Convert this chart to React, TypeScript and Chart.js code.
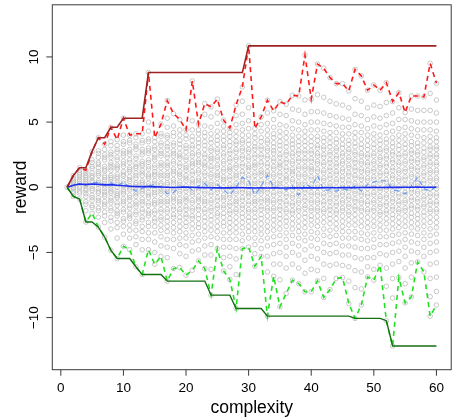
import { useEffect, useRef } from "react";
import { Chart, registerables } from "chart.js";

Chart.register(...registerables);

const complexity = [
  1, 2, 3, 4, 5, 6, 7, 8, 9, 10, 11, 12, 13, 14, 15, 16, 17, 18, 19, 20,
  21, 22, 23, 24, 25, 26, 27, 28, 29, 30, 31, 32, 33, 34, 35, 36, 37, 38, 39, 40,
  41, 42, 43, 44, 45, 46, 47, 48, 49, 50, 51, 52, 53, 54, 55, 56, 57, 58, 59, 60,
];

// per-complexity reward samples (gray circles)
const rewardSamples = [
  "0",
  "0.9 0.7 0.55 0.3 0.15 0 -0.1 -0.3 -0.45 -0.7 0.4",
  "1.5 1.3 1.1 0.95 0.6 0.45 0.3 0.1 -0.05 -0.3 -0.45 -0.9 0.8",
  "1.3 1.1 0.9 0.75 0.45 0.3 0.15 -0.1 -0.25 -0.5 -0.7 -1.1 -1.3 -1.8 -2.67 0.6",
  "2.75 2.1 1.9 1.6 1.45 1.1 0.9 0.75 0.5 0.35 0.1 -0.1 -0.25 -0.6 -0.8 -1.0 -1.4 -1.55 -2.0",
  "3.8 2.8 2.6 2.3 1.9 1.75 1.5 1.2 1.05 0.9 0.5 0.35 0.2 -0.1 -0.3 -0.45 -0.8 -1.0 -1.2 -1.6 -1.8 -2.3 -3.06",
  "3.3 2.9 2.5 2.3 2.1 1.6 1.4 1.25 0.9 0.75 0.55 0.3 0.1 -0.1 -0.35 -0.55 -0.7 -1.1 -1.3 -1.5 -1.9 -2.2 -2.7 -3.82",
  "4.6 3.5 3.2 2.7 2.5 2.3 1.9 1.7 1.5 1.3 0.9 0.75 0.6 0.4 0.1 -0.1 -0.3 -0.45 -0.8 -1.0 -1.2 -1.6 -1.8 -2.3 -2.6 -3.2 -4.84",
  "3.65 3.2 2.9 2.7 2.3 2.1 1.7 1.55 1.4 1.0 0.8 0.65 0.4 0.2 0.0 -0.3 -0.5 -0.65 -0.8 -1.2 -1.4 -1.8 -2.0 -2.2 -2.7 -3.1 -3.9 -5.47",
  "5.3 4.0 3.5 3.3 2.8 2.6 2.4 2.0 1.8 1.6 1.2 1.0 0.85 0.5 0.3 0.1 -0.2 -0.35 -0.5 -0.9 -1.1 -1.3 -1.7 -1.9 -2.4 -2.6 -3.0 -3.6 -4.53",
  "4.0 3.6 3.4 2.9 2.7 2.5 2.1 1.9 1.5 1.35 1.2 0.8 0.6 0.45 0.1 -0.05 -0.2 -0.6 -0.8 -1.0 -1.4 -1.6 -2.0 -2.2 -2.4 -2.9 -3.3 -3.9 -4.79",
  "4.1 3.8 3.3 3.1 2.9 2.4 2.2 1.8 1.6 1.45 1.1 0.9 0.7 0.35 0.2 0.0 -0.3 -0.5 -0.7 -1.1 -1.3 -1.5 -1.9 -2.1 -2.6 -2.8 -3.3 -3.8 -4.4 -6.1",
  "4.1 3.6 3.4 2.9 2.7 2.5 2.0 1.8 1.65 1.3 1.1 0.9 0.5 0.35 0.2 -0.15 -0.3 -0.5 -0.9 -1.1 -1.3 -1.7 -1.9 -2.3 -2.5 -3.0 -3.4 -4.0 -4.8 -6.7",
  "8.8 5.0 4.3 3.7 3.5 3.0 2.8 2.6 2.1 1.9 1.6 1.4 1.0 0.85 0.7 0.3 0.1 -0.05 -0.4 -0.6 -0.8 -1.2 -1.4 -1.8 -2.0 -2.2 -2.7 -3.0 -3.5 -4.0 -4.79",
  "3.8 3.5 3.1 2.9 2.5 2.3 2.1 1.7 1.5 1.2 1.0 0.85 0.5 0.3 0.1 -0.2 -0.4 -0.6 -1.0 -1.2 -1.35 -1.8 -2.0 -2.4 -2.6 -3.0 -3.5 -4.2 -5.0 -5.91",
  "4.85 4.1 3.9 3.4 3.2 2.8 2.6 2.4 1.9 1.7 1.5 1.1 0.9 0.7 0.3 0.15 -0.1 -0.3 -0.5 -0.9 -1.1 -1.3 -1.7 -1.9 -2.3 -2.5 -2.9 -3.3 -3.8 -4.5 -5.3",
  "6.65 5.3 4.6 4.0 3.8 3.4 3.1 2.9 2.5 2.3 1.9 1.7 1.5 1.1 0.9 0.7 0.35 0.2 -0.1 -0.3 -0.5 -0.9 -1.1 -1.3 -1.7 -1.9 -2.3 -2.6 -3.0 -3.4 -4.0 -4.6 -5.4 -7.2",
  "5.65 4.7 4.2 3.9 3.4 3.2 2.8 2.6 2.4 2.0 1.8 1.4 1.2 1.0 0.6 0.4 0.2 -0.1 -0.3 -0.7 -0.9 -1.1 -1.5 -1.7 -2.1 -2.3 -2.7 -3.1 -3.5 -4.0 -4.7 -6.24",
  "5.2 4.4 4.0 3.6 3.3 3.0 2.6 2.4 2.2 1.8 1.6 1.2 1.0 0.8 0.4 0.2 0.0 -0.3 -0.5 -0.9 -1.1 -1.3 -1.7 -1.9 -2.3 -2.6 -3.0 -3.4 -3.9 -4.4 -5.1 -6.16",
  "4.4 4.0 3.7 3.2 3.0 2.7 2.3 2.1 1.7 1.5 1.3 0.9 0.7 0.5 0.1 -0.1 -0.3 -0.7 -0.9 -1.1 -1.5 -1.7 -2.1 -2.3 -2.7 -3.0 -3.5 -3.9 -4.5 -5.3 -6.75",
  "8.16 5.1 4.4 3.9 3.6 3.2 3.0 2.6 2.4 2.0 1.8 1.6 1.2 1.0 0.6 0.4 0.2 -0.2 -0.4 -0.6 -1.0 -1.2 -1.6 -1.8 -2.2 -2.4 -2.8 -3.2 -3.7 -4.2 -4.9 -6.37",
  "4.85 4.4 4.1 3.7 3.4 3.1 2.7 2.5 2.1 1.9 1.7 1.3 1.1 0.7 0.5 0.3 -0.1 -0.3 -0.7 -0.9 -1.1 -1.5 -1.7 -2.1 -2.4 -2.8 -3.1 -3.6 -4.1 -4.8 -5.65",
  "6.42 5.6 4.7 4.2 3.9 3.5 3.2 2.9 2.5 2.3 1.9 1.7 1.5 1.1 0.9 0.5 0.3 0.1 -0.3 -0.5 -0.9 -1.1 -1.3 -1.7 -1.9 -2.3 -2.6 -3.0 -3.4 -3.9 -4.5 -5.2 -6.24",
  "6.17 5.4 4.6 4.1 3.7 3.4 3.0 2.8 2.4 2.2 2.0 1.6 1.4 1.0 0.8 0.4 0.2 0.0 -0.4 -0.6 -1.0 -1.2 -1.6 -1.8 -2.2 -2.5 -2.9 -3.3 -3.8 -4.4 -5.2 -6.3 -8.28",
  "6.76 5.7 4.9 4.3 3.9 3.6 3.3 2.9 2.7 2.3 2.1 1.7 1.5 1.1 0.9 0.7 0.3 0.1 -0.2 -0.4 -0.8 -1.0 -1.4 -1.6 -2.0 -2.2 -2.6 -3.0 -3.4 -3.9 -4.71",
  "5.15 4.7 4.3 3.9 3.6 3.2 3.0 2.6 2.4 2.0 1.8 1.4 1.2 0.8 0.6 0.4 0.0 -0.2 -0.6 -0.8 -1.0 -1.4 -1.6 -2.0 -2.3 -2.7 -3.0 -3.5 -4.0 -4.6 -5.4 -6.42",
  "4.54 4.2 3.9 3.5 3.2 2.8 2.6 2.2 2.0 1.6 1.4 1.2 0.8 0.6 0.2 0.0 -0.2 -0.6 -0.8 -1.2 -1.4 -1.8 -2.0 -2.4 -2.7 -3.1 -3.5 -4.0 -4.6 -5.3 -6.1 -7.08",
  "6.32 5.5 4.8 4.3 3.9 3.5 3.3 2.9 2.7 2.3 2.1 1.7 1.5 1.1 0.9 0.7 0.3 0.1 -0.3 -0.5 -0.9 -1.1 -1.3 -1.7 -1.9 -2.3 -2.7 -3.1 -3.5 -4.0 -4.7 -5.5 -6.7 -9.3",
  "7.7 6.6 5.6 4.9 4.4 4.0 3.6 3.4 3.0 2.8 2.4 2.2 1.8 1.6 1.2 1.0 0.6 0.4 0.2 -0.2 -0.4 -0.8 -1.0 -1.4 -1.6 -2.0 -2.3 -2.7 -3.1 -3.6 -4.1 -4.71",
  "10.85 6.1 5.1 4.5 4.0 3.6 3.3 2.9 2.7 2.3 2.1 1.7 1.5 1.3 0.9 0.7 0.3 0.1 -0.3 -0.5 -0.7 -1.1 -1.3 -1.7 -1.9 -2.3 -2.6 -3.0 -3.4 -3.9 -4.59",
  "4.5 4.1 3.8 3.4 3.1 2.9 2.5 2.3 1.9 1.7 1.5 1.1 0.9 0.5 0.3 0.1 -0.3 -0.5 -0.9 -1.1 -1.3 -1.7 -1.9 -2.3 -2.6 -3.0 -3.4 -3.9 -4.4 -5.1 -6.06",
  "5.4 4.8 4.3 3.8 3.5 3.1 2.9 2.5 2.3 1.9 1.7 1.3 1.1 0.9 0.5 0.3 -0.1 -0.3 -0.5 -0.9 -1.1 -1.5 -1.7 -2.1 -2.4 -2.8 -3.2 -3.6 -4.1 -4.7 -5.3",
  "6.68 5.7 4.9 4.4 4.0 3.6 3.4 3.0 2.8 2.4 2.2 1.8 1.6 1.2 1.0 0.8 0.4 0.2 -0.2 -0.4 -0.8 -1.0 -1.2 -1.6 -1.8 -2.2 -2.6 -3.0 -3.4 -3.9 -4.5 -5.3 -6.5 -9.89",
  "5.86 5.2 4.6 4.1 3.8 3.4 3.1 2.8 2.6 2.2 2.0 1.6 1.4 1.0 0.8 0.4 0.2 0.0 -0.4 -0.6 -1.0 -1.2 -1.6 -1.8 -2.2 -2.5 -2.9 -3.3 -3.8 -4.4 -5.1 -5.9 -6.83",
  "6.57 5.6 4.8 4.3 3.9 3.5 3.2 2.9 2.5 2.3 1.9 1.7 1.5 1.1 0.9 0.5 0.3 0.1 -0.3 -0.5 -0.9 -1.1 -1.5 -1.7 -2.1 -2.4 -2.8 -3.2 -3.7 -4.3 -5.0 -5.9 -7.1 -9.17",
  "6.37 5.5 4.7 4.2 3.8 3.4 3.1 2.7 2.5 2.1 1.9 1.5 1.3 0.9 0.7 0.5 0.1 -0.1 -0.5 -0.7 -1.1 -1.3 -1.7 -1.9 -2.3 -2.6 -3.0 -3.5 -4.0 -4.6 -5.3 -6.2 -8.15",
  "7.06 6.0 5.1 4.5 4.0 3.6 3.3 3.0 2.6 2.4 2.0 1.8 1.4 1.2 1.0 0.6 0.4 0.0 -0.2 -0.6 -0.8 -1.2 -1.4 -1.8 -2.0 -2.4 -2.8 -3.2 -3.7 -4.3 -5.0 -5.9 -7.13",
  "7.0 5.9 5.0 4.4 3.9 3.5 3.2 2.8 2.6 2.2 2.0 1.6 1.4 1.0 0.8 0.4 0.2 0.0 -0.4 -0.6 -1.0 -1.2 -1.6 -1.8 -2.2 -2.6 -3.0 -3.4 -3.9 -4.5 -5.2 -6.2 -7.39",
  "10.14 6.7 5.6 4.8 4.3 3.9 3.5 3.2 2.8 2.6 2.2 2.0 1.6 1.4 1.0 0.8 0.4 0.2 -0.2 -0.4 -0.8 -1.0 -1.4 -1.6 -2.0 -2.3 -2.7 -3.1 -3.6 -4.1 -4.8 -5.6 -6.6 -8.02",
  "6.76 5.8 5.0 4.4 3.9 3.5 3.2 2.8 2.6 2.2 2.0 1.6 1.4 1.2 0.8 0.6 0.2 0.0 -0.4 -0.6 -1.0 -1.2 -1.6 -1.8 -2.2 -2.5 -2.9 -3.4 -3.9 -4.5 -5.3 -6.3 -8.02",
  "9.45 7.1 5.8 5.0 4.4 3.9 3.6 3.2 3.0 2.6 2.4 2.0 1.8 1.4 1.2 0.8 0.6 0.2 0.0 -0.4 -0.6 -1.0 -1.2 -1.6 -1.8 -2.2 -2.6 -3.0 -3.5 -4.0 -4.7 -5.5 -6.4 -7.18",
  "9.13 6.9 5.7 4.9 4.3 3.8 3.5 3.1 2.9 2.5 2.3 1.9 1.7 1.3 1.1 0.7 0.5 0.1 -0.1 -0.5 -0.7 -1.1 -1.3 -1.7 -1.9 -2.3 -2.7 -3.2 -3.7 -4.3 -5.0 -5.9 -7.0 -8.46",
  "8.41 6.6 5.5 4.8 4.2 3.8 3.4 3.1 2.7 2.5 2.1 1.9 1.5 1.3 0.9 0.7 0.3 0.1 -0.3 -0.5 -0.9 -1.1 -1.5 -1.7 -2.1 -2.4 -2.8 -3.3 -3.8 -4.4 -5.1 -6.0 -7.85",
  "7.95 6.4 5.4 4.7 4.2 3.7 3.4 3.0 2.8 2.4 2.2 1.8 1.6 1.2 1.0 0.6 0.4 0.0 -0.2 -0.6 -0.8 -1.2 -1.4 -1.8 -2.0 -2.4 -2.8 -3.2 -3.7 -4.3 -5.0 -5.9 -7.0",
  "7.95 6.3 5.3 4.6 4.1 3.7 3.3 3.0 2.6 2.4 2.0 1.8 1.4 1.2 0.8 0.6 0.2 0.0 -0.4 -0.6 -1.0 -1.2 -1.6 -1.8 -2.2 -2.6 -3.0 -3.4 -3.9 -4.5 -5.2 -6.0 -6.93",
  "7.39 6.1 5.2 4.6 4.1 3.6 3.3 2.9 2.7 2.3 2.1 1.7 1.5 1.1 0.9 0.5 0.3 -0.1 -0.3 -0.7 -0.9 -1.3 -1.5 -1.9 -2.1 -2.5 -2.9 -3.4 -3.9 -4.5 -5.2 -6.1 -7.2 -8.92",
  "9.05 6.8 5.6 4.8 4.2 3.8 3.4 3.1 2.7 2.5 2.1 1.9 1.5 1.3 0.9 0.7 0.3 0.1 -0.3 -0.5 -0.9 -1.1 -1.5 -1.7 -2.1 -2.5 -2.9 -3.4 -3.9 -4.6 -5.4 -6.4 -7.7 -10.06",
  "8.54 6.6 5.5 4.7 4.2 3.7 3.3 3.0 2.6 2.4 2.0 1.8 1.4 1.2 0.8 0.6 0.2 0.0 -0.4 -0.6 -1.0 -1.2 -1.6 -1.8 -2.2 -2.6 -3.0 -3.5 -4.0 -4.7 -5.5 -6.5 -7.8 -9.04",
  "7.44 6.1 5.2 4.5 4.0 3.6 3.2 2.9 2.5 2.3 1.9 1.7 1.3 1.1 0.7 0.5 0.1 -0.1 -0.5 -0.7 -1.1 -1.3 -1.7 -1.9 -2.3 -2.7 -3.1 -3.6 -4.1 -4.7 -5.4 -6.1 -6.88",
  "7.85 6.3 5.4 4.7 4.1 3.7 3.3 3.0 2.6 2.4 2.0 1.8 1.4 1.2 0.8 0.6 0.2 0.0 -0.4 -0.6 -1.0 -1.2 -1.6 -1.8 -2.2 -2.6 -3.0 -3.5 -4.0 -4.6 -5.4 -6.3 -7.13",
  "7.44 6.2 5.3 4.6 4.0 3.6 3.3 2.9 2.7 2.3 2.1 1.7 1.5 1.1 0.9 0.5 0.3 -0.1 -0.3 -0.7 -0.9 -1.3 -1.5 -1.9 -2.1 -2.5 -2.9 -3.3 -3.8 -4.4 -5.1 -5.99",
  "8.03 6.5 5.5 4.8 4.2 3.7 3.4 3.0 2.8 2.4 2.2 1.8 1.6 1.2 1.0 0.6 0.4 0.0 -0.2 -0.6 -0.8 -1.2 -1.4 -1.8 -2.0 -2.4 -2.8 -3.3 -3.8 -4.4 -5.2 -6.2 -7.6 -10.24",
  "6.58 5.7 4.9 4.3 3.8 3.4 3.1 2.7 2.5 2.1 1.9 1.5 1.3 0.9 0.7 0.3 0.1 -0.3 -0.5 -0.9 -1.1 -1.5 -1.7 -2.1 -2.4 -2.8 -3.2 -3.7 -4.3 -5.0 -5.9 -7.0 -8.5 -12.18",
  "7.26 6.1 5.2 4.5 4.0 3.6 3.2 2.9 2.5 2.3 1.9 1.7 1.3 1.1 0.7 0.5 0.1 -0.1 -0.5 -0.7 -1.1 -1.3 -1.7 -1.9 -2.3 -2.7 -3.1 -3.6 -4.2 -4.9 -5.7 -6.93",
  "5.74 5.2 4.6 4.1 3.7 3.3 3.0 2.6 2.4 2.0 1.8 1.4 1.2 0.8 0.6 0.2 0.0 -0.4 -0.6 -1.0 -1.2 -1.6 -1.8 -2.2 -2.6 -3.0 -3.5 -4.0 -4.6 -5.3 -6.2 -7.4 -8.87",
  "7.0 6.0 5.1 4.5 4.0 3.5 3.2 2.8 2.6 2.2 2.0 1.6 1.4 1.0 0.8 0.4 0.2 -0.2 -0.4 -0.8 -1.0 -1.4 -1.6 -2.0 -2.3 -2.7 -3.1 -3.6 -4.2 -4.9 -5.8 -6.9 -8.41",
  "7.0 5.9 5.0 4.4 3.9 3.4 3.1 2.7 2.5 2.1 1.9 1.5 1.3 0.9 0.7 0.3 0.1 -0.3 -0.5 -0.9 -1.1 -1.5 -1.7 -2.1 -2.4 -2.8 -3.2 -3.7 -4.3 -5.0 -5.73",
  "6.93 5.9 5.0 4.4 3.8 3.4 3.0 2.7 2.3 2.1 1.7 1.5 1.1 0.9 0.5 0.3 -0.1 -0.3 -0.7 -0.9 -1.3 -1.5 -1.9 -2.2 -2.6 -3.0 -3.5 -4.0 -4.6 -5.3 -6.5",
  "9.51 7.2 5.9 5.0 4.4 3.9 3.5 3.1 2.9 2.5 2.3 1.9 1.7 1.3 1.1 0.7 0.5 0.1 -0.1 -0.5 -0.7 -1.1 -1.3 -1.7 -1.9 -2.3 -2.7 -3.2 -3.7 -4.3 -5.0 -5.9 -7.0 -8.4 -9.89",
  "7.98 6.7 5.7 5.0 4.3 3.8 3.5 3.1 2.9 2.5 2.3 1.9 1.7 1.3 1.1 0.7 0.5 0.1 -0.1 -0.5 -0.7 -1.1 -1.3 -1.7 -1.9 -2.3 -2.7 -3.1 -3.6 -4.2 -4.9 -5.8 -6.9 -8.0 -9.04",
];

const colMax = [
  0, 0.9, 1.5, 1.3, 2.75, 3.8, 3.3, 4.6, 3.65, 5.3, 4.0, 4.1, 4.1, 8.8, 3.8, 4.85, 6.65, 5.65, 5.2, 4.4,
  8.16, 4.85, 6.42, 6.17, 6.76, 5.15, 4.54, 6.32, 7.7, 10.85, 4.5, 5.4, 6.68, 5.86, 6.57, 6.37, 7.06, 7.0, 10.14, 6.76,
  9.45, 9.13, 8.41, 7.95, 7.95, 7.39, 9.05, 8.54, 7.44, 7.85, 7.44, 8.03, 6.58, 7.26, 5.74, 7.0, 7.0, 6.93, 9.51, 7.98,
];

const colMin = [
  0, -0.7, -0.9, -2.67, -2.0, -3.06, -3.82, -4.84, -5.47, -4.53, -4.79, -6.1, -6.7, -4.79, -5.91, -5.3, -7.2, -6.24, -6.16, -6.75,
  -6.37, -5.65, -6.24, -8.28, -4.71, -6.42, -7.08, -9.3, -4.71, -4.59, -6.06, -5.3, -9.89, -6.83, -9.17, -8.15, -7.13, -7.39, -8.02, -8.02,
  -7.18, -8.46, -7.85, -7.0, -6.93, -8.92, -10.06, -9.04, -6.88, -7.13, -5.99, -10.24, -12.18, -6.93, -8.87, -8.41, -5.73, -6.5, -9.89, -9.04,
];

const runMax = [
  0, 0.9, 1.5, 1.5, 2.75, 3.8, 3.8, 4.6, 4.6, 5.3, 5.3, 5.3, 5.3, 8.8, 8.8, 8.8, 8.8, 8.8, 8.8, 8.8,
  8.8, 8.8, 8.8, 8.8, 8.8, 8.8, 8.8, 8.8, 8.8, 10.85, 10.85, 10.85, 10.85, 10.85, 10.85, 10.85, 10.85, 10.85, 10.85, 10.85,
  10.85, 10.85, 10.85, 10.85, 10.85, 10.85, 10.85, 10.85, 10.85, 10.85, 10.85, 10.85, 10.85, 10.85, 10.85, 10.85, 10.85, 10.85, 10.85, 10.85,
];

const runMin = [
  0, -0.7, -0.9, -2.67, -2.67, -3.06, -3.82, -4.84, -5.47, -5.47, -5.47, -6.1, -6.7, -6.7, -6.7, -6.7, -7.2, -7.2, -7.2, -7.2,
  -7.2, -7.2, -7.2, -8.28, -8.28, -8.28, -8.28, -9.3, -9.3, -9.3, -9.3, -9.3, -9.89, -9.89, -9.89, -9.89, -9.89, -9.89, -9.89, -9.89,
  -9.89, -9.89, -9.89, -9.89, -9.89, -9.89, -10.06, -10.06, -10.06, -10.06, -10.06, -10.24, -12.18, -12.18, -12.18, -12.18, -12.18, -12.18, -12.18, -12.18,
];

const colMean = [
  0, 0.15, 0.25, 0.2, 0.25, 0.22, 0.18, 0.2, 0.15, 0.12, 0.08, 0.05, 0.06, 0.05, 0.03, 0.02, 0.0, -0.02, 0.0, 0.01,
  0.0, -0.03, -0.02, -0.04, -0.05, -0.04, -0.05, -0.03, -0.04, -0.05, -0.06, -0.05, -0.06, -0.05, -0.06, -0.06, -0.05, -0.04, -0.05, -0.04,
  -0.05, -0.04, -0.03, -0.04, -0.03, -0.02, -0.03, -0.02, -0.02, -0.01, -0.02, -0.01, 0.0, -0.01, 0.0, 0.0, 0.01, 0.0, 0.0, 0.0,
];

const colMedian = [
  0, 0.1, 0.3, 0.2, 0.3, 0.4, 0.2, 0.35, 0.1, 0.4, 0.0, -0.3, -0.1, 0.1, 0.2, 0.0, -0.5, -0.4, 0.0, 0.1,
  -0.2, 0.1, 0.3, -0.2, 0.2, -0.2, -0.6, 0.0, 0.75, 0.5, -0.6, 0.1, 0.9, 0.0, 0.0, -0.2, 0.1, -0.6, 0.25, 0.0,
  0.9, -0.25, -0.2, -0.3, -0.1, -0.25, 0.1, -0.3, 0.2, 0.4, 0.5, 0.5, -0.2, -0.3, -0.5, 0.1, 0.75, -0.1, -0.3, 0.1,
];

const xTicks = [0, 10, 20, 30, 40, 50, 60];
const yTicks = [-10, -5, 0, 5, 10];
const xTitle = "complexity";
const yTitle = "reward";

const FONT = "'Liberation Sans', Arial, Helvetica, sans-serif";

const rAxesPlugin = {
  id: "rAxes",
  afterDraw(chart: any) {
    const { ctx, chartArea: a, scales } = chart;
    const xs = scales.x;
    const ys = scales.y;
    ctx.save();
    ctx.strokeStyle = "#3a3a3a";
    ctx.lineWidth = 1;
    ctx.strokeRect(a.left, a.top, a.right - a.left, a.bottom - a.top);
    ctx.fillStyle = "#000";
    ctx.font = `13.5px ${FONT}`;
    ctx.textAlign = "center";
    ctx.textBaseline = "alphabetic";
    for (const t of xTicks) {
      const px = xs.getPixelForValue(t);
      ctx.beginPath();
      ctx.moveTo(px, a.bottom);
      ctx.lineTo(px, a.bottom + 6);
      ctx.stroke();
      ctx.fillText(String(t), px, a.bottom + 22);
    }
    for (const t of yTicks) {
      const py = ys.getPixelForValue(t);
      ctx.beginPath();
      ctx.moveTo(a.left, py);
      ctx.lineTo(a.left - 6, py);
      ctx.stroke();
      ctx.save();
      ctx.translate(a.left - 14, py);
      ctx.rotate(-Math.PI / 2);
      ctx.fillText(t < 0 ? "\u2212" + Math.abs(t) : String(t), 0, 0);
      ctx.restore();
    }
    ctx.font = `17.5px ${FONT}`;
    ctx.fillText(xTitle, (a.left + a.right) / 2, a.bottom + 43);
    ctx.save();
    ctx.translate(26, (a.top + a.bottom) / 2);
    ctx.rotate(-Math.PI / 2);
    ctx.fillText(yTitle, 0, 0);
    ctx.restore();
    ctx.restore();
  },
};

function series(values: number[]) {
  return complexity.map((c, i) => ({ x: c, y: values[i] }));
}

export default function App() {
  const ref = useRef<HTMLCanvasElement | null>(null);
  useEffect(() => {
    if (!ref.current) return;
    const cloud: { x: number; y: number }[] = [];
    rewardSamples.forEach((s, i) => {
      s.trim()
        .split(/\s+/)
        .forEach((v) => cloud.push({ x: complexity[i], y: parseFloat(v) }));
    });
    const line = (data: number[], color: string, width: number, dash: number[], order: number) => ({
      type: "line" as const,
      data: series(data),
      borderColor: color,
      borderWidth: width,
      borderDash: dash,
      pointRadius: 0,
      fill: false,
      tension: 0,
      showLine: true,
      order,
    });
    const chart = new Chart(ref.current, {
      type: "scatter",
      data: {
        datasets: [
          line(runMax, "#9E2424", 1.6, [], 1),
          line(runMin, "#137013", 1.4, [], 1),
          line(colMax, "#FF1A1A", 1.6, [5, 4], 2),
          line(colMin, "#22E022", 1.6, [5, 4], 2),
          line(colMean, "#1F2FEE", 1.6, [], 1),
          line(colMedian, "#6A9BF0", 1.2, [5, 4], 3),
          {
            type: "scatter" as const,
            data: cloud,
            pointRadius: 2.3,
            pointBorderWidth: 0.8,
            pointBorderColor: "#bbbbbb",
            pointBackgroundColor: "rgba(0,0,0,0)",
            showLine: false,
            order: 10,
          } as any,
        ],
      },
      options: {
        animation: false,
        responsive: false,
        events: [],
        layout: { padding: { left: 52.3, right: 2.7, top: 3.3, bottom: 50.3 } },
        plugins: { legend: { display: false }, tooltip: { enabled: false } },
        scales: {
          x: { type: "linear", min: -1.36, max: 62.36, display: false },
          y: { type: "linear", min: -14, max: 14, display: false },
        },
      },
      plugins: [rAxesPlugin],
    });
    return () => chart.destroy();
  }, []);
  return (
    <div style={{ position: "absolute", left: 0, top: 0, width: 456, height: 420, background: "#fff" }}>
      <canvas ref={ref} width={456} height={420} style={{ width: 456, height: 420 }} />
    </div>
  );
}
